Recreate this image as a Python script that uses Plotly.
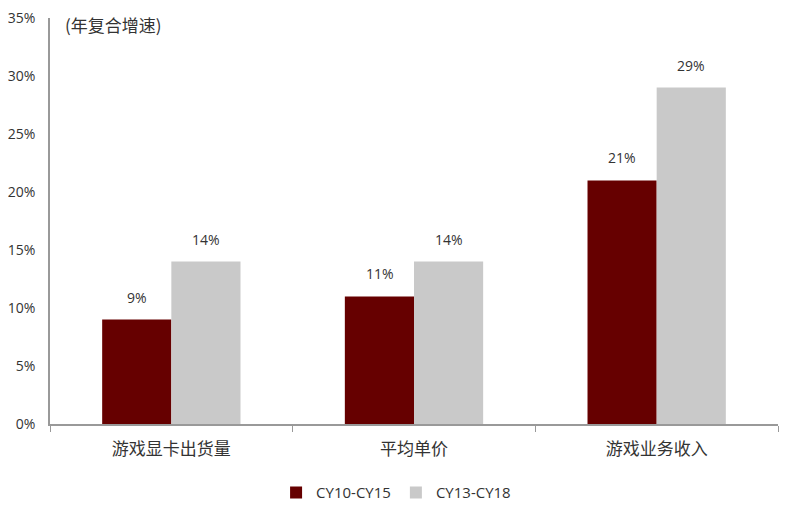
import plotly.graph_objects as go

categories = ["游戏显卡出货量", "平均单价", "游戏业务收入"]
cy10_cy15 = [0.09, 0.11, 0.21]
cy13_cy18 = [0.14, 0.14, 0.29]
series_names = ["CY10-CY15", "CY13-CY18"]
tick_vals = [0, 0.05, 0.10, 0.15, 0.20, 0.25, 0.30, 0.35]
tick_text = ["0%", "5%", "10%", "15%", "20%", "25%", "30%", "35%"]

FONT = "'Open Sans', 'Noto Sans CJK SC', sans-serif"
CJK = "'Noto Sans CJK SC', sans-serif"
TXT = "#333333"

fig = go.Figure()
fig.add_trace(go.Bar(x=categories, y=cy10_cy15, name=series_names[0],
                     marker=dict(color="#660000", line=dict(width=0))))
fig.add_trace(go.Bar(x=categories, y=cy13_cy18, name=series_names[1],
                     marker=dict(color="#C9C9C9", line=dict(width=0))))

# value labels, a bit above each bar
for vals, shift in [(cy10_cy15, -34.5), (cy13_cy18, 34.5)]:
    for c, v in zip(categories, vals):
        fig.add_annotation(x=c, y=v, text=f"{round(v * 100)}%", showarrow=False,
                           xshift=shift, yshift=11, yanchor="bottom",
                           font=dict(family=FONT, size=14, color=TXT))

fig.add_annotation(x=0.018, y=0.983, xref="paper", yref="paper", text="(年复合增速)",
                   showarrow=False, xanchor="left", yanchor="middle",
                   font=dict(family=CJK, size=17, color=TXT))

# page body adds an 8px offset, so the figure is sized to fit the window
fig.update_layout(
    width=792, height=505,
    margin=dict(l=42, r=22, t=10, b=89, autoexpand=False),
    plot_bgcolor="white", paper_bgcolor="white",
    barmode="group", bargap=0.43, bargroupgap=0,
    showlegend=True,
    legend=dict(orientation="h", x=0.49, xanchor="center", xref="container",
                y=0.04, yanchor="middle", yref="container",
                font=dict(family=FONT, size=15, color=TXT), itemwidth=30,
                traceorder="normal"),
    font=dict(family=FONT, size=14, color=TXT),
)
fig.update_xaxes(showline=True, linecolor="#999999", linewidth=1.5,
                 ticks="outside", ticklen=6, tickcolor="#999999",
                 tickson="boundaries", showgrid=False, automargin=False,
                 ticklabelstandoff=9,
                 tickfont=dict(family=CJK, size=17, color=TXT))
fig.update_yaxes(range=[0, 0.35], tickvals=tick_vals, ticktext=tick_text,
                 showline=True, linecolor="#999999", linewidth=1.5,
                 showgrid=False, zeroline=False, ticks="", ticklabelstandoff=10,
                 automargin=False, ticklabeloverflow="allow",
                 tickfont=dict(family=FONT, size=14, color=TXT))

fig.write_html("out.html")
